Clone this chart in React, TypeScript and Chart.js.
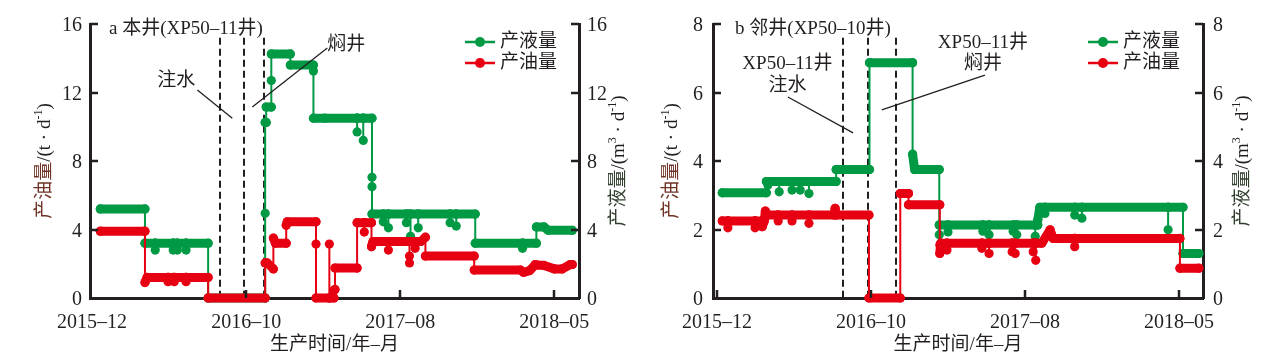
import React, { useEffect, useRef } from 'react';
import { Chart, registerables } from 'chart.js';
Chart.register(...registerables);

// ---------- data (x = days since 2015-12-01) ----------
const xTickDays = [0, 300, 600, 900];
const xTickLabels = ['2015–12', '2016–10', '2017–08', '2018–05'];
const yTicksA = [0, 4, 8, 12, 16];
const yTicksB = [0, 2, 4, 6, 8];

const liquidA: [number, number][] = [
  [16, 5.2], [103, 5.2], [103, 3.2], [123, 3.2], [123, 2.8], [123, 3.2], [158, 3.2], [158, 2.8], [158, 3.2],
  [166, 3.2], [166, 2.8], [166, 3.2], [183, 3.2], [183, 2.8], [183, 3.2], [226, 3.2], [226, 0], [337, 0],
  [337, 4.95], [337, 10.25], [339, 10.25], [339, 11.15], [349, 11.15], [349, 12.7], [349, 14.25], [386, 14.25],
  [386, 13.6], [431, 13.6], [431, 13.25], [431, 10.5], [453, 10.5], [516, 10.5], [516, 9.7], [516, 10.5],
  [528, 10.5], [528, 9.2], [528, 10.5], [545, 10.5], [545, 7.05], [545, 6.5], [545, 4.9], [567, 4.9], [567, 4.45],
  [567, 4.9], [577, 4.9], [577, 4.1], [577, 4.9], [612, 4.9], [612, 4.4], [612, 4.9], [620, 4.9], [620, 3.6],
  [620, 4.9], [635, 4.9], [635, 4.1], [635, 4.9], [697, 4.9], [697, 4.4], [697, 4.9], [709, 4.9], [709, 4.2],
  [709, 4.9], [746, 4.9], [746, 3.2], [838, 3.2], [838, 2.9], [838, 3.2], [865, 3.2], [865, 4.15], [880, 4.15],
  [888, 3.95], [935, 3.95],
];
const oilA: [number, number][] = [
  [16, 3.9], [103, 3.9], [103, 0.9], [107, 1.2], [148, 1.2], [148, 0.95], [148, 1.2], [160, 1.2], [160, 0.95],
  [160, 1.2], [183, 1.2], [183, 0.95], [183, 1.2], [226, 1.2], [226, 0], [337, 0], [337, 2.05], [341, 2.05],
  [353, 1.7], [353, 3.5], [357, 3.2], [378, 3.2], [378, 4.25], [380, 4.45], [436, 4.45], [436, 3.15], [436, 0],
  [462, 0], [462, 3.15], [462, 0], [471, 0], [471, 0.45], [473, 0.5], [473, 1.75], [516, 1.75], [516, 4.4],
  [530, 4.4], [530, 3.85], [530, 4.4], [544, 4.4], [544, 3.0], [547, 3.3], [577, 3.3], [577, 2.8], [577, 3.3],
  [618, 3.3], [618, 2.45], [618, 2.05], [618, 3.3], [629, 3.3], [629, 2.9], [629, 3.3], [640, 3.3], [649, 3.55],
  [649, 2.45], [744, 2.45], [744, 1.63], [834, 1.63], [840, 1.5], [852, 1.6], [863, 1.95], [880, 1.9], [900, 1.7],
  [915, 1.7], [931, 1.95], [935, 1.95],
];
const liquidB: [number, number][] = [
  [10, 3.07], [96, 3.07], [96, 3.4], [99, 3.4], [99, 3.3], [99, 3.4], [121, 3.4], [121, 3.1], [121, 3.4],
  [146, 3.4], [146, 3.15], [146, 3.4], [162, 3.4], [162, 3.15], [162, 3.4], [179, 3.4], [179, 3.05], [179, 3.4],
  [232, 3.4], [232, 3.75], [297, 3.75], [297, 6.87], [381, 6.87], [381, 4.2], [385, 3.75], [433, 3.75],
  [433, 2.13], [433, 1.85], [433, 2.13], [450, 2.13], [450, 1.93], [450, 2.13], [518, 2.13], [518, 1.95],
  [518, 2.13], [530, 2.13], [530, 1.85], [530, 2.13], [577, 2.13], [577, 1.95], [577, 2.13], [584, 2.13],
  [584, 1.85], [584, 2.13], [620, 2.13], [620, 1.8], [620, 2.13], [625, 2.13], [625, 2.28], [629, 2.65],
  [639, 2.65], [639, 2.47], [639, 2.65], [697, 2.65], [697, 2.42], [697, 2.65], [711, 2.65], [711, 2.33],
  [711, 2.65], [879, 2.65], [879, 1.99], [879, 2.65], [908, 2.65], [908, 1.3], [939, 1.3],
];
const oilB: [number, number][] = [
  [10, 2.25], [21, 2.25], [21, 2.05], [21, 2.25], [74, 2.25], [74, 2.05], [74, 2.25], [88, 2.25], [88, 2.08],
  [92, 2.25], [94, 2.54], [98, 2.42], [119, 2.42], [119, 2.25], [119, 2.42], [146, 2.42], [146, 2.25], [146, 2.42],
  [179, 2.42], [179, 2.18], [179, 2.42], [228, 2.42], [230, 2.62], [232, 2.42], [296, 2.42], [296, 0], [357, 0],
  [357, 3.05], [373, 3.05], [373, 2.72], [434, 2.72], [434, 1.55], [434, 1.3], [436, 1.6], [448, 1.6], [448, 1.4],
  [448, 1.6], [516, 1.6], [516, 1.45], [516, 1.6], [530, 1.6], [530, 1.3], [530, 1.6], [575, 1.6], [575, 1.35],
  [575, 1.6], [581, 1.6], [581, 1.3], [581, 1.6], [616, 1.6], [616, 1.35], [616, 1.6], [621, 1.6], [621, 1.1],
  [621, 1.6], [633, 1.6], [649, 1.99], [655, 1.74], [697, 1.74], [697, 1.5], [697, 1.74], [902, 1.74],
  [902, 0.87], [939, 0.87],
];

const dashDaysA = [249, 296, 335];
const dashDaysB = [245, 294, 349];

// ---------- style ----------
const GREEN = '#009944';
const RED = '#e60012';
const INK = '#231f20';
const SERIF = '"Liberation Serif", "Noto Sans CJK SC", serif';

type Part = { t: string; s: number; dy?: number; c?: string };

interface Panel {
  canvasLeft: number; canvasWidth: number; leftW: number; rightW: number;
  xMin: number; xMax: number; yMax: number; yTicks: number[];
  liquid: [number, number][]; oil: [number, number][];
  dashDays: number[]; dashTop: number;
  title: string; titleAt: [number, number];
  notes: { lines: string[]; at: [number, number]; gap: number }[];
  leaders: [[number, number], [number, number]][];
  leftTitleOff: number; rightTitleOff: number; leftTickOff: number; rightTickOff: number;
}

const leftTitle: Part[] = [
  { t: '产油量', s: 19, c: '#6f3326' }, { t: '/(t · d', s: 19 }, { t: '-1', s: 12, dy: -6 }, { t: ')', s: 19 },
];
const rightTitle: Part[] = [
  { t: '产液量', s: 19, c: '#33402f' }, { t: '/(m', s: 19 }, { t: '3', s: 12, dy: -6 }, { t: ' · d', s: 19 },
  { t: '-1', s: 12, dy: -6 }, { t: ')', s: 19 },
];

const panelA: Panel = {
  canvasLeft: 0, canvasWidth: 641, leftW: 90, rightW: 62,
  xMin: -4, xMax: 948, yMax: 16, yTicks: yTicksA,
  liquid: liquidA, oil: oilA, dashDays: dashDaysA, dashTop: 15.2,
  title: 'a 本井(XP50–11井)', titleAt: [33, 15.7],
  notes: [
    { lines: ['注水'], at: [164, 12.67], gap: 22 },
    { lines: ['焖井'], at: [495, 14.77], gap: 22 },
  ],
  leaders: [[[205, 12.15], [273, 10.5]], [[458, 14.6], [312, 11.15]]],
  leftTitleOff: 45, rightTitleOff: 40, leftTickOff: 8, rightTickOff: 8,
};
const panelB: Panel = {
  canvasLeft: 641, canvasWidth: 641, leftW: 72, rightW: 79,
  xMin: -8, xMax: 947, yMax: 8, yTicks: yTicksB,
  liquid: liquidB, oil: oilB, dashDays: dashDaysB, dashTop: 7.6,
  title: 'b 邻井(XP50–10井)', titleAt: [35, 7.85],
  notes: [
    { lines: ['XP50–11井', '注水'], at: [137, 6.83], gap: 22 },
    { lines: ['XP50–11井', '焖井'], at: [518, 7.45], gap: 21 },
  ],
  leaders: [[[138, 5.87], [265, 4.82]], [[522, 6.51], [321, 5.49]]],
  leftTitleOff: 41, rightTitleOff: 40, leftTickOff: 10, rightTickOff: 10,
};

function drawParts(ctx: CanvasRenderingContext2D, parts: Part[], x: number, y: number, align: 'left' | 'center') {
  let total = 0;
  parts.forEach((p) => { ctx.font = `${p.s}px ${SERIF}`; total += ctx.measureText(p.t).width; });
  let cx = align === 'center' ? x - total / 2 : x;
  ctx.textAlign = 'left';
  ctx.textBaseline = 'middle';
  parts.forEach((p) => {
    ctx.font = `${p.s}px ${SERIF}`;
    ctx.fillStyle = p.c || INK;
    ctx.fillText(p.t, cx, y + (p.dy || 0));
    cx += ctx.measureText(p.t).width;
  });
}

function decor(p: Panel) {
  return {
    id: 'decor',
    beforeDatasetsDraw(chart: any) {
      const { ctx, chartArea, scales } = chart;
      const x = scales.x, y = scales.y;
      ctx.save();
      ctx.strokeStyle = INK; ctx.lineWidth = 2; ctx.setLineDash([7, 4]);
      p.dashDays.forEach((d) => {
        const px = Math.round(x.getPixelForValue(d));
        ctx.beginPath(); ctx.moveTo(px, y.getPixelForValue(p.dashTop)); ctx.lineTo(px, chartArea.bottom); ctx.stroke();
      });
      ctx.restore();
    },
    afterDraw(chart: any) {
      const { ctx, chartArea, scales } = chart;
      const x = scales.x, y = scales.y;
      const { left, right, top, bottom } = chartArea;
      ctx.save();
      // inward ticks
      ctx.strokeStyle = INK; ctx.lineWidth = 2.5; ctx.setLineDash([]);
      p.yTicks.forEach((v) => {
        if (v === 0) return;
        const py = Math.round(y.getPixelForValue(v));
        ctx.beginPath(); ctx.moveTo(left, py); ctx.lineTo(left + 8, py); ctx.stroke();
        ctx.beginPath(); ctx.moveTo(right, py); ctx.lineTo(right - 8, py); ctx.stroke();
      });
      xTickDays.forEach((d) => {
        if (d <= p.xMin + 5) return;
        const px = Math.round(x.getPixelForValue(d));
        ctx.beginPath(); ctx.moveTo(px, bottom); ctx.lineTo(px, bottom - 8); ctx.stroke();
      });
      // tick labels
      ctx.fillStyle = INK; ctx.font = `20px ${SERIF}`; ctx.textBaseline = 'alphabetic';
      p.yTicks.forEach((v) => {
        const py = y.getPixelForValue(v) + 7;
        ctx.textAlign = 'right'; ctx.fillText(String(v), left - p.leftTickOff, py);
        ctx.textAlign = 'left'; ctx.fillText(String(v), right + p.rightTickOff, py);
      });
      ctx.textAlign = 'center';
      xTickDays.forEach((d, i) => {
        ctx.fillText(xTickLabels[i], x.getPixelForValue(d), bottom + 30);
      });
      // axis titles
      drawParts(ctx, [{ t: '生产时间/年–月', s: 19 }], (left + right) / 2, bottom + 47, 'center');
      const midY = (top + bottom) / 2;
      ctx.save(); ctx.translate(left - p.leftTitleOff, midY); ctx.rotate(-Math.PI / 2);
      drawParts(ctx, leftTitle, 0, 0, 'center'); ctx.restore();
      ctx.save(); ctx.translate(right + p.rightTitleOff, midY); ctx.rotate(-Math.PI / 2);
      drawParts(ctx, rightTitle, 0, 0, 'center'); ctx.restore();
      // panel title
      drawParts(ctx, [{ t: p.title, s: 19 }], x.getPixelForValue(p.titleAt[0]), y.getPixelForValue(p.titleAt[1]), 'left');
      // notes
      p.notes.forEach((n) => {
        n.lines.forEach((line, i) => {
          drawParts(ctx, [{ t: line, s: 19 }], x.getPixelForValue(n.at[0]), y.getPixelForValue(n.at[1]) + i * n.gap, 'center');
        });
      });
      ctx.strokeStyle = INK; ctx.lineWidth = 1.3;
      p.leaders.forEach(([a, b]) => {
        ctx.beginPath();
        ctx.moveTo(x.getPixelForValue(a[0]), y.getPixelForValue(a[1]));
        ctx.lineTo(x.getPixelForValue(b[0]), y.getPixelForValue(b[1]));
        ctx.stroke();
      });
      // legend
      const items: [string, string][] = [['产液量', GREEN], ['产油量', RED]];
      items.forEach(([label, color], i) => {
        const ly = top + 18 + i * 21;
        ctx.strokeStyle = color; ctx.lineWidth = 2.5;
        ctx.beginPath(); ctx.moveTo(left + 375, ly); ctx.lineTo(left + 405, ly); ctx.stroke();
        ctx.fillStyle = color;
        ctx.beginPath(); ctx.arc(left + 390, ly, 5, 0, Math.PI * 2); ctx.fill();
        drawParts(ctx, [{ t: label, s: 19 }], left + 410, ly, 'left');
      });
      ctx.restore();
    },
  };
}

function lineDataset(label: string, pts: [number, number][], color: string) {
  return {
    label,
    data: pts.map(([x, y]) => ({ x, y })),
    borderColor: color,
    backgroundColor: color,
    borderWidth: 2,
    borderCapStyle: 'round',
    borderJoinStyle: 'round',
    pointRadius: 4.6,
    pointHoverRadius: 4.6,
    pointBorderWidth: 0,
    tension: 0,
    clip: false,
    segment: {
      borderWidth: (c: any) => (c.p0.parsed.x === c.p1.parsed.x ? 2 : 9),
    },
  };
}

function makeChart(canvas: HTMLCanvasElement, p: Panel) {
  const axisBorder = { display: true, width: 3, color: INK };
  const yCommon = {
    min: 0, max: p.yMax,
    ticks: { display: false, stepSize: p.yTicks[1] },
    grid: { display: false },
    border: axisBorder,
  };
  return new Chart(canvas, {
    type: 'line',
    data: {
      datasets: [lineDataset('产油量', p.oil, RED), lineDataset('产液量', p.liquid, GREEN)] as any,
    },
    options: {
      animation: false,
      responsive: false,
      devicePixelRatio: 1,
      events: [],
      layout: { padding: { top: 24, left: 0, right: 0, bottom: 0 } },
      plugins: { legend: { display: false }, tooltip: { enabled: false } },
      scales: {
        x: {
          type: 'linear', min: p.xMin, max: p.xMax,
          ticks: { display: false },
          grid: { display: false },
          border: axisBorder,
          afterFit: (s: any) => { s.height = 60; },
        },
        y: { ...yCommon, position: 'left', afterFit: (s: any) => { s.width = p.leftW; } },
        y1: { ...yCommon, position: 'right', afterFit: (s: any) => { s.width = p.rightW; } },
      },
    } as any,
    plugins: [decor(p)],
  });
}

export default function App() {
  const refA = useRef<HTMLCanvasElement>(null);
  const refB = useRef<HTMLCanvasElement>(null);
  useEffect(() => {
    const charts = [makeChart(refA.current!, panelA), makeChart(refB.current!, panelB)];
    return () => charts.forEach((c) => c.destroy());
  }, []);
  return (
    <div style={{ position: 'fixed', left: 0, top: 0, width: 1282, height: 358, background: '#fff' }}>
      <canvas ref={refA} width={panelA.canvasWidth} height={358}
        style={{ position: 'absolute', left: panelA.canvasLeft, top: 0 }} />
      <canvas ref={refB} width={panelB.canvasWidth} height={358}
        style={{ position: 'absolute', left: panelB.canvasLeft, top: 0 }} />
    </div>
  );
}
